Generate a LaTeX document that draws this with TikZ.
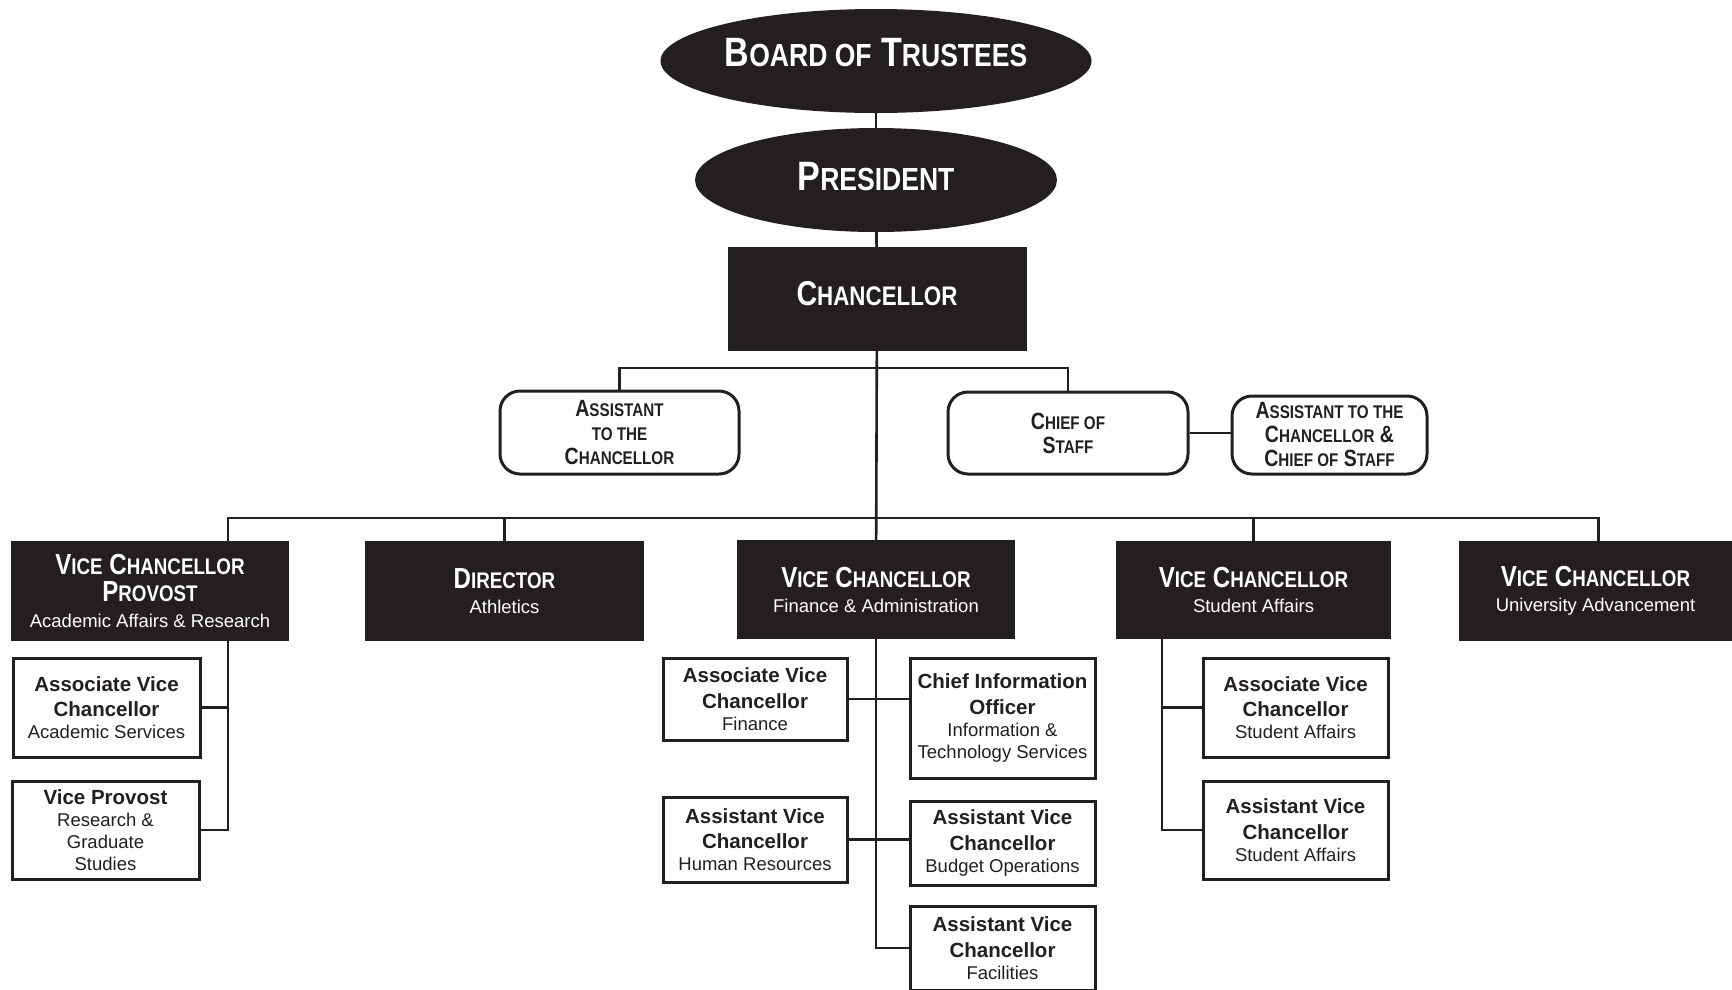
\documentclass[tikz,border=0pt]{standalone}
\usepackage{fontspec}
\setmainfont{Liberation Sans}
\newfontfamily\condfont[FakeStretch=0.83]{Liberation Sans}
\usetikzlibrary{shapes.geometric}
\definecolor{dk}{RGB}{35,31,32}
\newcommand\sm[1]{\scalebox{0.78}{#1}}
\newcommand\vt[1]{{\condfont\bfseries\fontsize{29}{25}\selectfont #1}}
\newcommand\bt[1]{{\bfseries\fontsize{20.5}{23}\selectfont #1}}
\begin{document}
\begin{tikzpicture}[x=1pt,y=-1pt,
 oval/.style={ellipse, fill=dk, draw=none, inner sep=0pt, text=white, font=\condfont\bfseries\fontsize{41}{46}\selectfont},
 darkbox/.style={rectangle, fill=dk, draw=none, inner sep=0pt, text=white, align=center, font=\fontsize{18.5}{25}\selectfont},
 roundbox/.style={rectangle, rounded corners=20pt, draw=dk, line width=3pt, fill=white, inner sep=0pt, text=dk, align=center, font=\condfont\bfseries\fontsize{23.5}{24}\selectfont},
 whitebox/.style={rectangle, draw=dk, line width=3pt, fill=white, inner sep=0pt, text=dk, align=center, font=\fontsize{18.5}{22}\selectfont},
 link/.style={draw=dk, line width=2.6pt},
]
\useasboundingbox (0,0) rectangle (1732,989);
\fill[white] (0,0) rectangle (1732,989);
\clip (0,0) rectangle (1732,989);

% top
\node[oval, minimum width=431pt, minimum height=104pt, text depth=18pt] (board) at (876,61) {B\sm{OARD OF} T\sm{RUSTEES}};
\node[oval, minimum width=362pt, minimum height=104pt, text depth=7.5pt] (pres) at (876,180) {P\sm{RESIDENT}};
\node[darkbox, minimum width=299pt, minimum height=104pt, text depth=12pt] (chan) at (877,299) {{\condfont\bfseries\fontsize{34.5}{36}\selectfont C\sm{HANCELLOR}}};

% assistants
\node[roundbox, minimum width=239pt, minimum height=83pt] (atc) at (619.5,432.5) {A\sm{SSISTANT}\\\sm{TO THE}\\C\sm{HANCELLOR}};
\node[roundbox, minimum width=240pt, minimum height=82pt] (cos) at (1068,433) {C\sm{HIEF OF}\\S\sm{TAFF}};
\node[roundbox, minimum width=195pt, minimum height=78pt] (acs) at (1329.5,435) {A\sm{SSISTANT TO THE}\\C\sm{HANCELLOR} \&\\C\sm{HIEF OF} S\sm{TAFF}};

% vice chancellors
\node[darkbox, minimum width=278pt, minimum height=100pt] (vcp) at (150,591) {\vt{V\sm{ICE} C\sm{HANCELLOR}}\\[1.5pt]\vt{P\sm{ROVOST}}\\[1.5pt]Academic Affairs \& Research};
\node[darkbox, minimum width=279pt, minimum height=100pt] (dir) at (504.5,591) {\vt{D\sm{IRECTOR}}\\Athletics};
\node[darkbox, minimum width=278pt, minimum height=99pt] (vcf) at (876,589.5) {\vt{V\sm{ICE} C\sm{HANCELLOR}}\\Finance \& Administration};
\node[darkbox, minimum width=275pt, minimum height=98pt] (vcs) at (1253.5,590) {\vt{V\sm{ICE} C\sm{HANCELLOR}}\\Student Affairs};
\node[darkbox, minimum width=273pt, minimum height=100pt] (vcu) at (1595.5,591) {\vt{V\sm{ICE} C\sm{HANCELLOR}}\\University Advancement};

% children
\node[whitebox, minimum width=187pt, minimum height=99pt] (avca) at (106.5,707.5) {\bt{Associate Vice}\\[3.5pt]\bt{Chancellor}\\Academic Services};
\node[whitebox, minimum width=187pt, minimum height=98pt] (vp) at (105.5,830) {\bt{Vice Provost}\\Research \&\\Graduate\\Studies};
\node[whitebox, minimum width=184pt, minimum height=82pt] (avcf) at (755,699) {\bt{Associate Vice}\\[3.5pt]\bt{Chancellor}\\Finance};
\node[whitebox, minimum width=185pt, minimum height=120pt] (cio) at (1002.5,718) {\bt{Chief Information}\\[3.5pt]\bt{Officer}\\Information \&\\Technology Services};
\node[whitebox, minimum width=184pt, minimum height=85pt] (hr) at (755,839.5) {\bt{Assistant Vice}\\[3.5pt]\bt{Chancellor}\\Human Resources};
\node[whitebox, minimum width=185pt, minimum height=84pt] (bud) at (1002.5,843) {\bt{Assistant Vice}\\[3.5pt]\bt{Chancellor}\\Budget Operations};
\node[whitebox, minimum width=185pt, minimum height=84pt] (fac) at (1002.5,948) {\bt{Assistant Vice}\\[3.5pt]\bt{Chancellor}\\Facilities};
\node[whitebox, minimum width=185pt, minimum height=99pt] (avcs) at (1295.5,707.5) {\bt{Associate Vice}\\[3.5pt]\bt{Chancellor}\\Student Affairs};
\node[whitebox, minimum width=185pt, minimum height=98pt] (asvs) at (1295.5,830) {\bt{Assistant Vice}\\[3.5pt]\bt{Chancellor}\\Student Affairs};

% junction coordinates
\coordinate (b1) at (876,368);
\coordinate (pj) at (228,518);
\coordinate (sj) at (1162,600);
\coordinate (uj) at ([xshift=3pt]vcu.north);

% connectors
\draw[link] (board) -- (pres);
\draw[link] (pres) -- (chan);
\draw[link] (chan) -- (vcf);
\draw[link] (atc.north) |- (b1) -| (cos.north);
\draw[link] (cos.east) -- (cos.east -| acs.west);
\draw[link] (pj |- vcp.north) -- (pj) -- (pj -| uj) -- (uj);
\draw[link] (pj -| dir.north) -- (dir.north);
\draw[link] (pj -| vcs.north) -- (vcs.north);
\draw[link] (pj |- vcp.south) |- (vp.east);
\draw[link] (avca.east) -- (avca.east -| pj);
\draw[link] (vcf.south) |- (fac.west);
\draw[link] (avcf.east) -- (avcf.east -| cio.west);
\draw[link] (hr.east) -- (hr.east -| bud.west);
\draw[link] (sj |- vcs.south) |- (asvs.west);
\draw[link] (avcs.west) -- (avcs.west -| sj);
\end{tikzpicture}
\end{document}
